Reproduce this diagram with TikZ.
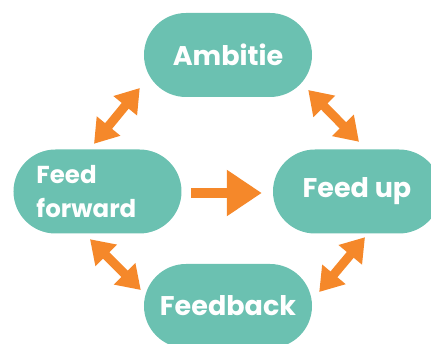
\documentclass[tikz,border=0pt]{standalone}
\usepackage{fontspec}
\setmainfont{Poppins}
\usetikzlibrary{positioning,arrows.meta}

\definecolor{groen}{RGB}{107,193,177}
\definecolor{oranje}{RGB}{245,136,42}

\tikzstyle{blok} = [rectangle, rounded corners=42pt, minimum width=168pt, minimum height=84pt, text centered, fill=groen, text=white, font=\fontsize{27}{34}\selectfont\bfseries]
\tikzstyle{dubbelpijl} = [draw=oranje, line width=9pt, {Triangle[width=29pt,length=23pt]}-{Triangle[width=29pt,length=23pt]}]
\tikzstyle{pijl} = [draw=oranje, line width=10pt, -{Triangle[width=44pt,length=35pt]}]

\begin{document}
\begin{tikzpicture}[on grid]
	\path[use as bounding box, clip] (-228pt,55pt) rectangle (203pt,-289pt);

	\node (ambitie)  [blok] {Ambitie};
	\node (feedfwd)  [blok, below left=136.5pt and 130.5pt of ambitie, text width=122pt, align=left, font=\fontsize{24.5}{34}\selectfont\bfseries] {Feed\\forward};
	\node (feedup)   [blok, below right=136.5pt and 129pt of ambitie] {Feed up};
	\node (feedback) [blok, below=251pt of ambitie] {Feedback};

	\draw[dubbelpijl] ([xshift=-3.5pt,yshift=5.5pt]feedfwd.north) -- ([xshift=-4pt,yshift=-33pt]ambitie.west);
	\draw[dubbelpijl] ([xshift=-4pt,yshift=-35pt]ambitie.east)    -- ([xshift=2pt,yshift=7.5pt]feedup.north);
	\draw[dubbelpijl] ([xshift=-7.5pt,yshift=-5.5pt]feedfwd.south) -- ([xshift=-3pt,yshift=16pt]feedback.west);
	\draw[dubbelpijl] ([xshift=8pt,yshift=-3.5pt]feedup.south)    -- ([xshift=7pt,yshift=14pt]feedback.east);
	\draw[pijl] ([xshift=9.5pt,yshift=-1.5pt]feedfwd.east) -- ([xshift=-11pt,yshift=-1.5pt]feedup.west);
\end{tikzpicture}
\end{document}
